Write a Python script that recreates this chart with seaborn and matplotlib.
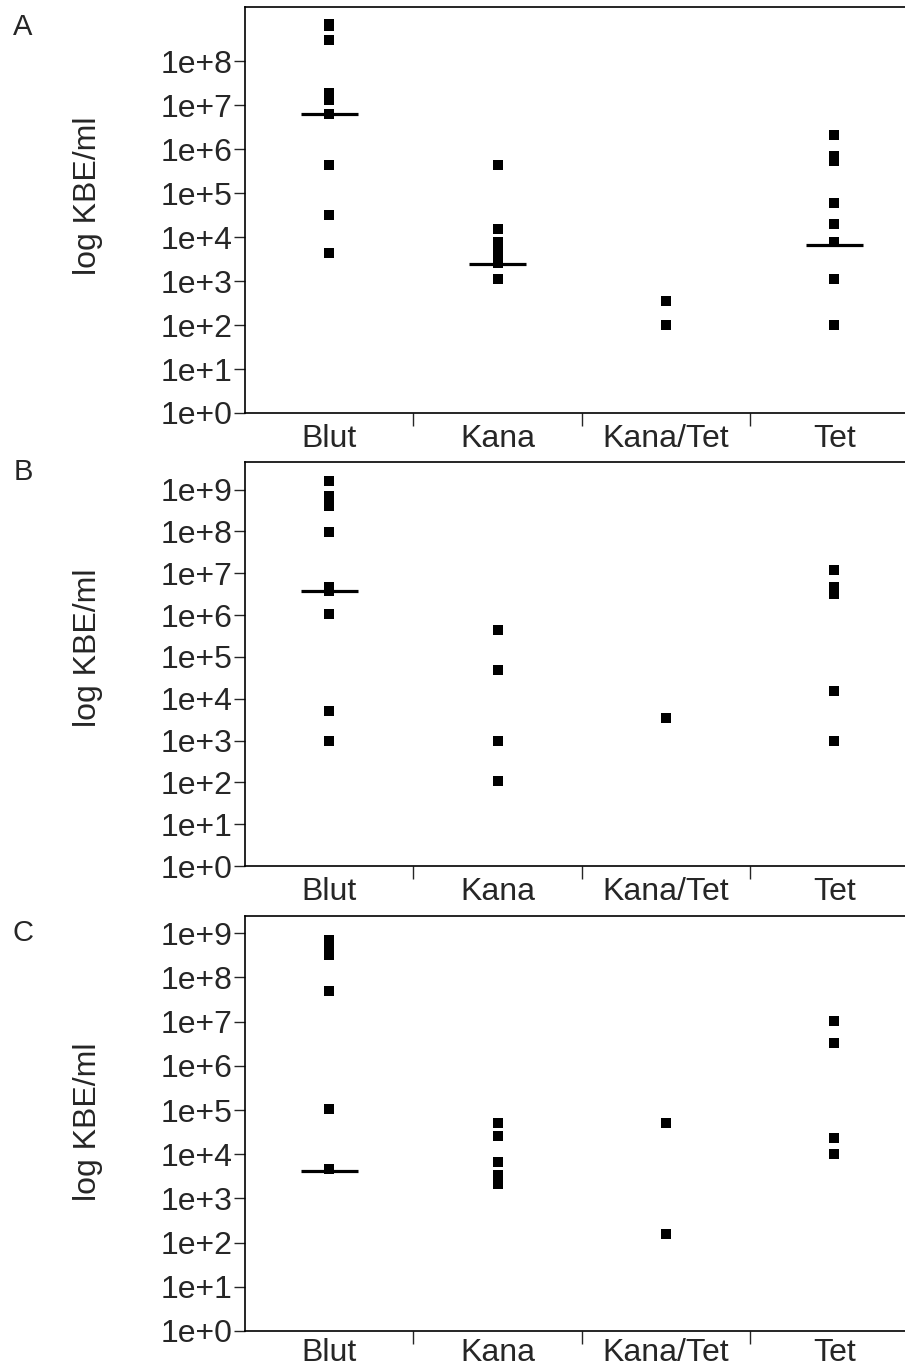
import numpy as np
import pandas as pd
import matplotlib
matplotlib.use("Agg")
import matplotlib.pyplot as plt
import seaborn as sns

sns.set_style("ticks")
plt.rcParams['font.family'] = ['Liberation Sans', 'DejaVu Sans']

# Categories on the x axis
groups = ["Blut", "Kana", "Kana/Tet", "Tet"]

# Panel A: CFU/ml per group
a_blut = [7.1e8, 6.2e8, 3.0e8, 1.9e7, 1.3e7, 6.3e6, 4.4e5, 3.2e4, 4.3e3]
a_kana = [4.4e5, 1.5e4, 7.9e3, 4.6e3, 3.1e3, 2.6e3, 1.1e3]
a_kanatet = [3.5e2, 1.0e2]
a_tet = [2.1e6, 6.8e5, 5.4e5, 5.8e4, 2.0e4, 7.8e3, 1.1e3, 1.0e2]
a_median = [6.2e6, 2.4e3, None, 6.6e3]

# Panel B
b_blut = [1.6e9, 7.2e8, 4.0e8, 9.8e7, 4.6e6, 3.8e6, 1.05e6, 5.0e3, 1.0e3]
b_kana = [4.3e5, 4.8e4, 1.0e3, 1.1e2]
b_kanatet = [3.5e3]
b_tet = [1.2e7, 4.6e6, 3.2e6, 1.5e4, 1.0e3]
b_median = [3.7e6, None, None, None]

# Panel C
c_blut = [7.1e8, 4.9e8, 3.2e8, 5.0e7, 1.05e5, 4.6e3]
c_kana = [5.2e4, 2.6e4, 6.5e3, 3.3e3, 2.1e3]
c_kanatet = [5.2e4, 1.6e2]
c_tet = [1.05e7, 3.2e6, 2.3e4, 1.0e4]
c_median = [4.1e3, None, None, None]

panels = [
    ("A", [a_blut, a_kana, a_kanatet, a_tet], a_median, 8, 9.23),
    ("B", [b_blut, b_kana, b_kanatet, b_tet], b_median, 9, 9.66),
    ("C", [c_blut, c_kana, c_kanatet, c_tet], c_median, 9, 9.39),
]

# axes placement in pixels (top, bottom) and y-label vertical position
W, H = 905, 1369
boxes = [(7, 413), (462, 866), (916, 1331)]
ylab_y = [0.535, 0.54, 0.505]
letter_y = [27, 472, 933]
xlab_pad = [8, 8, 5]
left = 245

fig = plt.figure(figsize=(W / 100, H / 100), dpi=100)

for (letter, values, medians, max_exp, top_exp), (t, b), ly, lty, xp in zip(
        panels, boxes, ylab_y, letter_y, xlab_pad):
    ax = fig.add_axes([left / W, 1 - b / H, 1 - left / W, (b - t) / H])

    df = pd.DataFrame({
        "group": np.repeat(groups, [len(v) for v in values]),
        "cfu": np.concatenate(values),
    })
    sns.stripplot(data=df, x="group", y="cfu", order=groups, ax=ax,
                  jitter=False, marker="s", size=6.8, color="black",
                  linewidth=0, log_scale=True)

    for i, m in enumerate(medians):
        if m is not None:
            ax.hlines(m, i - 0.17, i + 0.17, color="black", lw=2.3, zorder=3)

    ax.set_ylim(1, 10 ** top_exp)
    ax.set_xlim(-0.5, 3.42)

    exps = list(range(0, max_exp + 1))
    ax.set_yticks([10.0 ** k for k in exps])
    ax.set_yticklabels([f"1e+{k}" for k in exps])
    ax.yaxis.set_minor_locator(matplotlib.ticker.NullLocator())
    ax.tick_params(axis="y", length=8, width=1, pad=1, labelsize=23, direction="out")

    ax.set_xticks(range(len(groups)))
    ax.set_xticklabels(groups)
    ax.set_xticks([0.5, 1.5, 2.5], minor=True)
    ax.tick_params(axis="x", which="major", length=0, pad=xp, labelsize=23)
    ax.tick_params(axis="x", which="minor", length=9, width=1, direction="out")

    ax.set_xlabel("")
    ax.set_ylabel("log KBE/ml", fontsize=23)
    ax.yaxis.set_label_coords(-0.215, ly)

    for side in ["left", "bottom", "top"]:
        ax.spines[side].set_visible(True)
        ax.spines[side].set_linewidth(1.2)
        ax.spines[side].set_color("black")
    ax.spines["right"].set_visible(False)

    fig.text(23 / W, 1 - lty / H, letter, fontsize=21, ha="center", va="center")

plt.savefig("out.png", dpi=100)
